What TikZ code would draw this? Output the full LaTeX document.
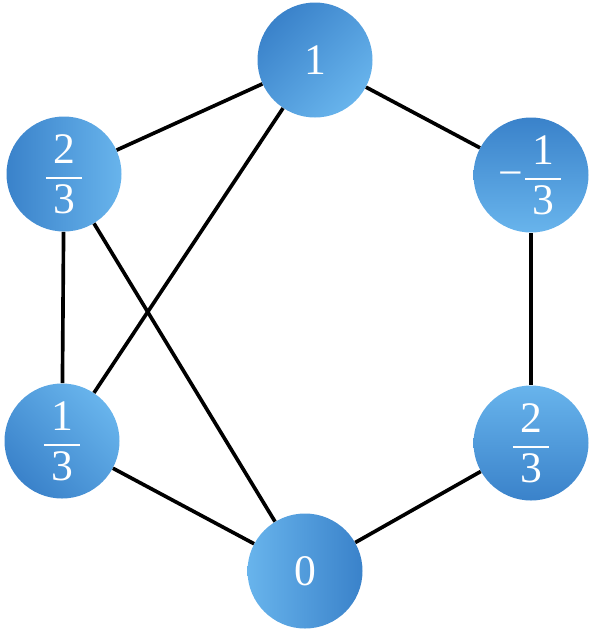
\documentclass[tikz,border=0pt]{standalone}
\usepackage{amsmath}
\usepackage{fontspec}
\setmainfont{Liberation Serif}
\definecolor{darkblue}{RGB}{58,130,202}
\definecolor{lightblue}{RGB}{104,180,236}
\newlength{\pxu}
\setlength{\pxu}{0.025cm}
\tikzset{main node/.style={circle,minimum size=115\pxu,inner sep=0pt,text=white,
    font=\fontsize{31}{36}\selectfont,top color=darkblue,bottom color=lightblue,shading angle=#1}}
\tikzset{edge/.style={line width=2.6pt,black}}
% fraction with a heavier, wider bar
\newcommand{\fr}[2]{$\genfrac{}{}{1.3pt}{0}{\mbox{\,#1\,}}{\mbox{\,#2\,}}$}

\begin{document}
\begin{tikzpicture}[x=0.025cm,y=-0.025cm]
    \useasboundingbox (0,0) rectangle (591,632);
    \node[main node=45] (1) at (315,60) {1};
    \node[main node=90] (2) at (64,174) {\fr{2}{3}};
    \node[main node=0] (3) at (531,175) {−\fr{1}{3}};
    \node[main node=135] (4) at (62,441) {\fr{1}{3}};
    \node[main node=180] (5) at (531,443) {\fr{2}{3}};
    \node[main node=270] (6) at (305,571) {0};

    \draw[edge] (1) -- (2);
    \draw[edge] (1) -- (3);
    \draw[edge] (1) -- (4);
    \draw[edge] (2) -- (4);
    \draw[edge] (2) -- (6);
    \draw[edge] (4) -- (6);
    \draw[edge] (3) -- (5);
    \draw[edge] (5) -- (6);
\end{tikzpicture}
\end{document}
